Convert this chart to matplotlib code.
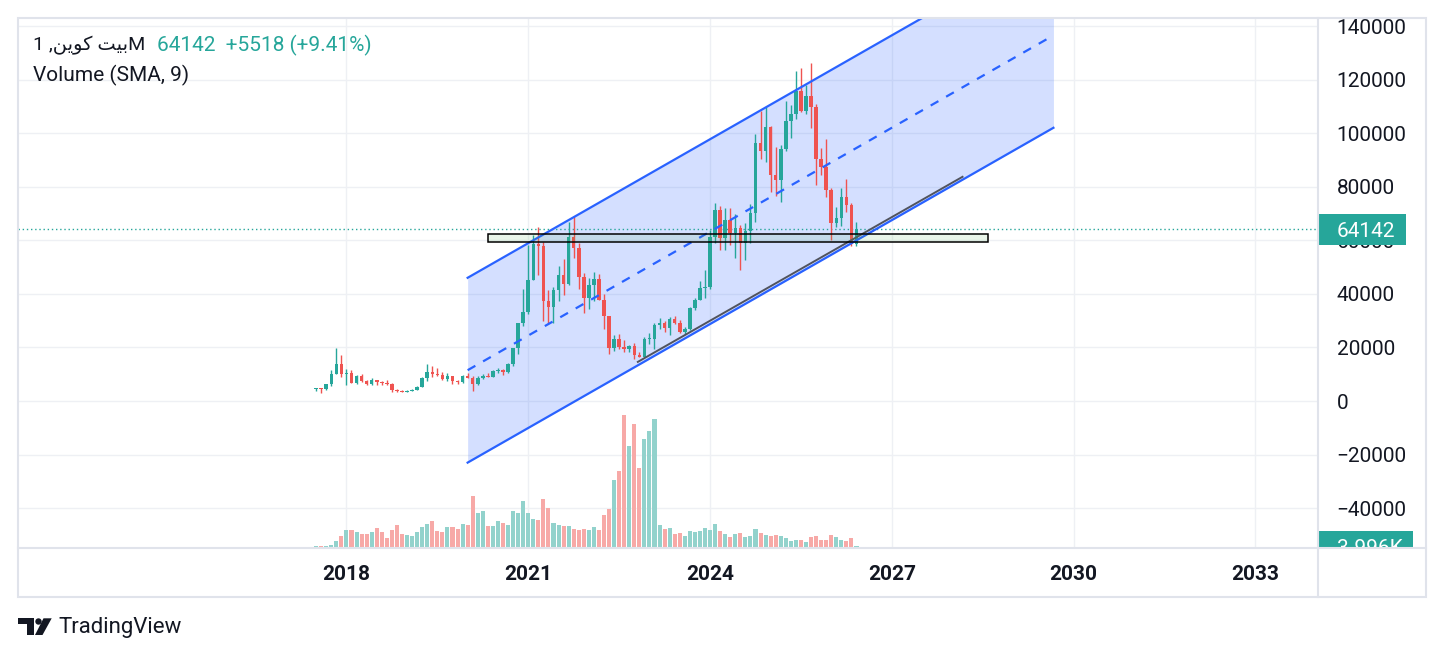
import numpy as np
import matplotlib
matplotlib.use('Agg')
import matplotlib.pyplot as plt
from matplotlib import patches, transforms

# monthly candles, first bar = Aug 2017
opens = [4300, 4700, 4340, 6450, 10000, 13850, 10250, 10350, 6900, 9250,
         7500, 6400, 7750, 7000, 6620, 6330, 4000, 3740, 3450, 3850,
         4100, 5320, 8570, 10820, 10100, 9600, 8300, 9150, 7550, 7200,
         9350, 8550, 6420, 8630, 9450, 9140, 11350, 11650, 10780, 13800,
         19700, 28950, 33100, 45200, 58800, 57700, 37300, 35000, 41500, 47100,
         43800, 61300, 57000, 46200, 38500, 43200, 45500, 37700, 31800, 19900,
         23300, 20050, 19420, 20490, 17170, 16540, 23130, 23150, 28480, 29250,
         27220, 30480, 29230, 25940, 26970, 34640, 37720, 42280, 42580, 61130,
         71290, 60670, 67490, 62680, 64630, 58970, 63330, 70220, 96410, 93430,
         102430, 84350, 82550, 94200, 104600, 107150, 115750, 108250, 114050, 109600,
         90400, 87500, 78600, 66300, 68300, 76100, 73100, 58624]
highs = [4800, 4980, 6470, 11500, 19700, 17200, 11800, 11700, 9800, 10000,
         7780, 8500, 7800, 7400, 7700, 6580, 4400, 4100, 4200, 4300,
         5600, 9100, 13880, 13200, 12300, 10900, 10400, 9500, 7750, 9580,
         10500, 9200, 9480, 10080, 10400, 11450, 12470, 12050, 14100, 19900,
         29300, 41950, 58350, 61800, 64900, 59500, 41300, 42400, 50500, 52900,
         67000, 69000, 59000, 47900, 45800, 48200, 47400, 40000, 31900, 24700,
         25200, 22800, 21000, 21500, 18400, 23950, 25250, 29200, 31000, 29820,
         31390, 31800, 30200, 27480, 35000, 38450, 44730, 48970, 63970, 73780,
         72800, 71980, 71950, 70000, 65600, 66500, 73600, 99600, 108350, 109600,
         102750, 95000, 95750, 111980, 110600, 123200, 124450, 117900, 126200, 111000,
         94600, 97900, 79500, 72600, 79700, 83000, 74000, 66700]
lows = [3900, 3000, 4100, 5500, 10000, 9100, 6000, 6600, 6450, 7050,
        5800, 6100, 5900, 6100, 6100, 3500, 3200, 3350, 3400, 3700,
        4100, 5300, 7500, 9100, 9400, 7700, 7300, 6500, 6430, 6900,
        8450, 3800, 6150, 8120, 8900, 8900, 10520, 9880, 10380, 13200,
        17600, 28100, 32300, 45000, 47000, 30000, 28800, 29300, 37300, 39600,
        43300, 53300, 42000, 32900, 34300, 37200, 37600, 26700, 17600, 18800,
        19600, 18200, 18200, 15500, 16300, 16500, 21350, 19550, 26950, 25850,
        24800, 28860, 25400, 24900, 26550, 34100, 37600, 38500, 41880, 59000,
        56550, 56550, 58400, 53500, 49000, 52550, 58900, 66800, 90500, 89150,
        78200, 76600, 74450, 93400, 98200, 105250, 108000, 107250, 102000, 80600,
        84400, 76000, 60000, 65000, 65500, 70500, 57800, 58000]
closes = [4700, 4340, 6450, 10000, 13850, 10250, 10350, 6900, 9250, 7500,
          6400, 7750, 7000, 6620, 6330, 4000, 3740, 3450, 3850, 4100,
          5320, 8570, 10820, 10100, 9600, 8300, 9150, 7550, 7200, 9350,
          8550, 6420, 8630, 9450, 9140, 11350, 11650, 10780, 13800, 19700,
          28950, 33100, 45200, 58800, 57700, 37300, 35000, 41500, 47100, 43800,
          61300, 57000, 46200, 38500, 43200, 45500, 37700, 31800, 19900, 23300,
          20050, 19420, 20490, 17170, 16540, 23130, 23150, 28480, 29250, 27220,
          30480, 29230, 25940, 26970, 34640, 37720, 42280, 42580, 61130, 71290,
          60670, 67490, 62680, 64630, 58970, 63330, 70220, 96410, 93430, 102430,
          84350, 82550, 94200, 104600, 107150, 115750, 108250, 114050, 109600, 90400,
          87500, 78600, 66300, 68300, 76100, 73100, 58624, 64142]
# volume in thousands
volumes = [4, 4, 4, 6, 16, 28, 42, 42, 38, 33,
           33, 38, 47, 38, 23, 42, 54, 33, 30, 28,
           38, 50, 57, 64, 40, 38, 50, 50, 45, 57,
           54, 124, 83, 88, 52, 52, 64, 59, 54, 88,
           83, 112, 83, 69, 66, 117, 95, 59, 54, 52,
           52, 45, 42, 45, 42, 50, 42, 78, 93, 162,
           184, 316, 242, 294, 189, 258, 278, 306, 54, 45,
           47, 33, 35, 28, 40, 38, 40, 47, 42, 57,
           40, 33, 26, 33, 35, 26, 28, 45, 35, 30,
           28, 30, 28, 23, 16, 18, 18, 14, 26, 28,
           18, 18, 30, 26, 18, 16, 23, 3.996]

year_labels = ['2018', '2021', '2024', '2027', '2030', '2033']
price_ticks = list(range(-40000, 140001, 20000))

# regression channel (bar index, price) and the trend line under it
channel_x = [30, 146]
channel_mid = [11500, 136500]
channel_half = 34500
trend_x = [63.7, 128]
trend_y = [14600, 83700]
# support zone rectangle
zone_x = [34, 133]
zone_y = [59200, 62200]

last_price = 64142
change = 5518
change_pct = 9.41

GREEN = '#26a69a'
RED = '#ef5350'
BLUE = '#2962ff'
TEXT = '#131722'
BORDER = '#e0e3eb'
FS = 15

plt.rcParams['font.family'] = ['Roboto', 'DejaVu Sans']

W, H = 1444, 658
fig = plt.figure(figsize=(W / 100, H / 100), dpi=100)
fig.patch.set_facecolor('white')


def px_rect(x0, y0, x1, y1):
    return [x0 / W, 1 - y1 / H, (x1 - x0) / W, (y1 - y0) / H]


ax = fig.add_axes(px_rect(18, 18, 1318, 548))
ax_scale = fig.add_axes(px_rect(1318, 18, 1425, 548))
ax_bg = fig.add_axes([0, 0, 1, 1])

o = np.array(opens, float)
h = np.array(highs, float)
l = np.array(lows, float)
c = np.array(closes, float)
v = np.array(volumes, float)
idx = np.arange(len(o))
up = c >= o
colors = np.where(up, GREEN, RED)
vol_colors = np.where(up, '#92d2cc', '#f7a9a7')

ylo, yhi = -54880, 142990
vol_top = 1259

# volume at the bottom of the price pane, own vertical scale
vol_trans = transforms.blended_transform_factory(
    ax.transData, transforms.Affine2D().scale(1, 1 / vol_top) + ax.transAxes)
ax.bar(idx, v, width=0.8, color=vol_colors, linewidth=0, transform=vol_trans, zorder=1)

# channel
cx = np.array(channel_x, float)
cm = np.array(channel_mid, float)
ax.fill_between(cx, cm - channel_half, cm + channel_half, color=BLUE, alpha=0.2,
                linewidth=0, zorder=2)

# candles
ax.vlines(idx, l, h, colors=colors, linewidth=1, zorder=4)
ax.bar(idx, np.maximum(np.abs(c - o), 250), bottom=np.minimum(o, c), width=0.7,
       color=colors, linewidth=0, zorder=5)

ax.plot(cx, cm + channel_half, color=BLUE, lw=1.6, zorder=6)
ax.plot(cx, cm - channel_half, color=BLUE, lw=1.6, zorder=6)
ax.plot(cx, cm, color=BLUE, lw=1.6, ls=(0, (4, 4)), zorder=6)
ax.plot(trend_x, trend_y, color='#50535e', lw=1.4, zorder=6)

ax.add_patch(patches.Rectangle((zone_x[0], zone_y[0]), zone_x[1] - zone_x[0],
                               zone_y[1] - zone_y[0], facecolor=(0.3, 0.69, 0.31, 0.12),
                               edgecolor='black', lw=1.1, zorder=6))

ax.axhline(last_price, color=GREEN, lw=1, ls=(0, (1, 2)), zorder=3)

ax.set_xlim(-59.04, 198.39)
ax.set_ylim(ylo, yhi)
ax.set_xticks([(int(y) - 2017) * 12 - 6 for y in year_labels])
ax.set_xticklabels(year_labels)
ax.set_yticks(price_ticks)
ax.set_yticklabels([str(p).replace('-', '\u2212') for p in price_ticks])
ax.yaxis.tick_right()
ax.tick_params(axis='y', length=0, pad=13.5, labelsize=FS, labelcolor=TEXT)
ax.tick_params(axis='x', length=0, pad=12.3, labelsize=FS, labelcolor=TEXT)
for t in ax.get_xticklabels():
    t.set_fontweight('bold')
ax.grid(color='#eef0f4', lw=1)
ax.set_axisbelow(True)
for s in ax.spines.values():
    s.set_visible(False)
ax.patch.set_visible(False)

# price scale labels
ax_scale.set_xlim(0, 1)
ax_scale.set_ylim(ylo, yhi)
ax_scale.axis('off')
ax_scale.patch.set_visible(False)
box_h = 11460
ax_scale.add_patch(patches.Rectangle((0, last_price - box_h / 2), 0.822, box_h,
                                     facecolor=GREEN, edgecolor='none', zorder=3))
ax_scale.text(0.178, last_price, str(last_price), color='white', fontsize=FS,
              va='center_baseline', ha='left', zorder=4)
vtrans = transforms.blended_transform_factory(
    ax_scale.transAxes, transforms.Affine2D().scale(1, 1 / vol_top) + ax_scale.transAxes)
vbox_h = 73
ax_scale.add_patch(patches.Rectangle((0, v[-1] - vbox_h / 2), 0.888, vbox_h,
                                     facecolor=GREEN, edgecolor='none', transform=vtrans,
                                     zorder=3))
ax_scale.text(0.178, v[-1], '%.3fK' % v[-1], color='white', fontsize=FS,
              va='center_baseline', ha='left', transform=vtrans, clip_on=True, zorder=4)

# frame, header and logo in pixel coordinates
ax_bg.set_xlim(0, W)
ax_bg.set_ylim(H, 0)
ax_bg.axis('off')
ax_bg.patch.set_visible(False)
ax_bg.add_patch(patches.Rectangle((17.5, 17.5), 1408, 579.5, fill=False,
                                  edgecolor=BORDER, lw=1.5))
ax_bg.plot([17.5, 1425.5], [548, 548], color=BORDER, lw=1.5)
ax_bg.plot([1318, 1318], [17.5, 597], color=BORDER, lw=1.5)

# matplotlib has no bidi/shaping, so the Arabic title is written in visual order
title = '1 ,\ufee6\ufef3\ufeee\ufedb \ufe96\ufef4\ufe91M'
ax_bg.text(33, 45.5, title, fontsize=14, color=TEXT, va='center')
ax_bg.text(157, 45.5, '%d  +%d (+%.2f%%)' % (last_price, change, change_pct),
           fontsize=FS, color=GREEN, va='center')
ax_bg.text(33, 75, 'Volume (SMA, 9)', fontsize=FS, color=TEXT, va='center')

ax_bg.add_patch(patches.Polygon([(17.7, 618.3), (34.3, 618.3), (34.3, 635), (26.7, 635),
                                 (26.7, 624.3), (17.7, 624.3)], color=TEXT, lw=0))
ax_bg.add_patch(patches.Circle((38.5, 621.5), 3.2, color=TEXT, lw=0))
ax_bg.add_patch(patches.Polygon([(43.5, 618.3), (51.7, 618.3), (42.5, 635), (35, 635)],
                                color=TEXT, lw=0))
ax_bg.text(58, 628, 'TradingView', fontsize=16, color=TEXT, va='center')

fig.savefig('out.png', dpi=100, facecolor='white')
